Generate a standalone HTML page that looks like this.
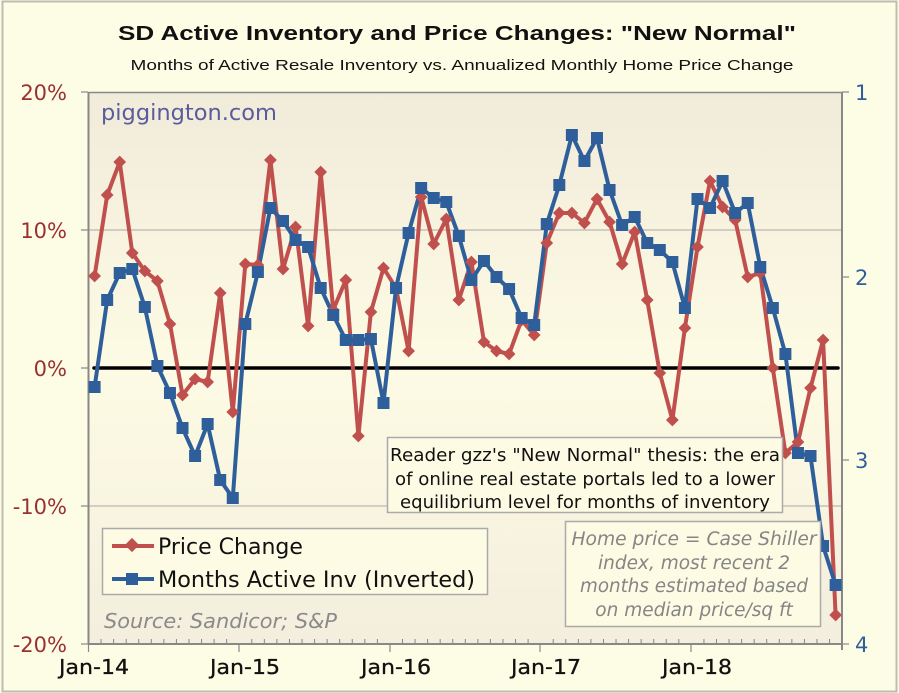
<!DOCTYPE html>
<html><head><meta charset="utf-8"><style>
html,body{margin:0;padding:0;background:#fdfde6;}
svg{display:block;}
</style></head><body>
<svg width="899" height="693" viewBox="0 0 899 693" xmlns="http://www.w3.org/2000/svg">
<defs>
<linearGradient id="pg" x1="0" y1="0" x2="0" y2="1">
<stop offset="0" stop-color="#f1ebda"/><stop offset="0.5" stop-color="#fdfbe4"/><stop offset="1" stop-color="#f3eedd"/>
</linearGradient>
</defs>
<rect x="0" y="0" width="899" height="693" fill="#fdfde6"/>
<rect x="2.5" y="1.5" width="894" height="690" fill="none" stroke="#bdbdb0" stroke-width="2"/>
<text x="457" y="40" font-family="Liberation Sans, sans-serif" font-weight="bold" font-size="20" text-anchor="middle" textLength="678" lengthAdjust="spacingAndGlyphs" fill="#111">SD Active Inventory and Price Changes: "New Normal"</text>
<text x="462" y="70" font-family="Liberation Sans, sans-serif" font-size="15" text-anchor="middle" textLength="663" lengthAdjust="spacingAndGlyphs" fill="#111">Months of Active Resale Inventory vs.  Annualized Monthly Home Price Change</text>
<rect x="88.5" y="92" width="753.5" height="552" fill="url(#pg)"/>
<line x1="88.5" y1="230" x2="842" y2="230" stroke="#aaa" stroke-width="1"/>
<line x1="88.5" y1="506" x2="842" y2="506" stroke="#aaa" stroke-width="1"/>
<line x1="88.5" y1="92.5" x2="842" y2="92.5" stroke="#888" stroke-width="1.5"/>
<line x1="88.5" y1="92" x2="88.5" y2="644" stroke="#888" stroke-width="2"/>
<line x1="842" y1="92" x2="842" y2="650" stroke="#888" stroke-width="2"/>
<line x1="88.5" y1="644" x2="842" y2="644" stroke="#888" stroke-width="2"/>
<g stroke="#888" stroke-width="1.2">
<line x1="81" y1="92" x2="88" y2="92"/><line x1="81" y1="230" x2="88" y2="230"/><line x1="81" y1="368" x2="88" y2="368"/><line x1="81" y1="506" x2="88" y2="506"/><line x1="81" y1="644" x2="88" y2="644"/>
<line x1="842" y1="92" x2="849" y2="92"/><line x1="842" y1="277" x2="849" y2="277"/><line x1="842" y1="460" x2="849" y2="460"/><line x1="842" y1="644" x2="849" y2="644"/>
<line x1="88.5" y1="644" x2="88.5" y2="652"/><line x1="239" y1="644" x2="239" y2="652"/><line x1="390" y1="644" x2="390" y2="652"/><line x1="540" y1="644" x2="540" y2="652"/><line x1="691" y1="644" x2="691" y2="652"/>
</g>
<g id="minor" stroke="#888" stroke-width="1"></g>
<text x="101" y="120" font-family="DejaVu Sans, sans-serif" font-size="22.5" fill="#5a5c9c">piggington.com</text>
<g font-family="DejaVu Sans, sans-serif" font-size="21" fill="#9b3030" text-anchor="end">
<text x="67" y="100">20%</text><text x="67" y="238">10%</text><text x="67" y="376">0%</text><text x="67" y="514">-10%</text><text x="67" y="652">-20%</text>
</g>
<g font-family="DejaVu Sans, sans-serif" font-size="21" fill="#2f5f9a">
<text x="855" y="100">1</text><text x="855" y="285">2</text><text x="855" y="468">3</text><text x="855" y="652">4</text>
</g>
<g font-family="DejaVu Sans, sans-serif" font-size="20" fill="#111" text-anchor="middle" stroke="#111" stroke-width="0.3">
<text x="94" y="674" textLength="70" lengthAdjust="spacingAndGlyphs">Jan-14</text><text x="245" y="674" textLength="70" lengthAdjust="spacingAndGlyphs">Jan-15</text><text x="396" y="674" textLength="70" lengthAdjust="spacingAndGlyphs">Jan-16</text><text x="546" y="674" textLength="70" lengthAdjust="spacingAndGlyphs">Jan-17</text><text x="697" y="674" textLength="70" lengthAdjust="spacingAndGlyphs">Jan-18</text>
</g>
<line x1="94" y1="368" x2="838" y2="368" stroke="#000" stroke-width="3.5" stroke-linecap="round"/>
<g id="series"></g>
<rect x="387.5" y="437.5" width="395" height="75" fill="#fdfbe4" stroke="#aaa" stroke-width="1.5"/>
<g font-family="DejaVu Sans, sans-serif" font-size="18" fill="#111" text-anchor="middle">
<text x="585" y="461" textLength="390" lengthAdjust="spacingAndGlyphs">Reader gzz's "New Normal" thesis: the era</text>
<text x="585" y="485" textLength="380" lengthAdjust="spacingAndGlyphs">of online real estate portals led to a lower</text>
<text x="585" y="508" textLength="370" lengthAdjust="spacingAndGlyphs">equilibrium level for months of inventory</text>
</g>
<rect x="565.5" y="521.5" width="255" height="105" fill="#fdfbe4" stroke="#aaa" stroke-width="1.5"/>
<g font-family="DejaVu Sans, sans-serif" font-size="18.5" font-style="italic" fill="#858585" text-anchor="middle">
<text x="694" y="545" textLength="245" lengthAdjust="spacingAndGlyphs">Home price = Case Shiller</text>
<text x="694" y="569">index, most recent 2</text>
<text x="694" y="592" textLength="228" lengthAdjust="spacingAndGlyphs">months estimated based</text>
<text x="694" y="616">on median price/sq ft</text>
</g>
<rect x="102.5" y="528.5" width="385" height="66" fill="#fdfbe4" stroke="#aaa" stroke-width="1.5"/>
<line x1="112" y1="546" x2="154" y2="546" stroke="#c0504d" stroke-width="4"/>
<rect x="127" y="540" width="10" height="10" fill="#c0504d" transform="rotate(45 132 545)"/>
<line x1="112" y1="579" x2="154" y2="579" stroke="#2f5f9a" stroke-width="4"/>
<rect x="126" y="573" width="12" height="12" fill="#2f5f9a"/>
<g font-family="DejaVu Sans, sans-serif" font-size="22" fill="#111">
<text x="158" y="554">Price Change</text>
<text x="158" y="587" textLength="317" lengthAdjust="spacingAndGlyphs">Months Active Inv (Inverted)</text>
</g>
<text x="104" y="628" font-family="DejaVu Sans, sans-serif" font-size="20.5" font-style="italic" fill="#8a8a8a" textLength="233" lengthAdjust="spacingAndGlyphs">Source: Sandicor; S&amp;P</text>
</svg>
<script>
(function(){
var NS="http://www.w3.org/2000/svg";
var minor=document.getElementById("minor");
for(var i=1;i<60;i++){if(i%12==0)continue;var x=88.5+12.56*i;var l=document.createElementNS(NS,"line");l.setAttribute("x1",x);l.setAttribute("x2",x);l.setAttribute("y1",639);l.setAttribute("y2",644);minor.appendChild(l);}
var red=[276,195,162,253,271,281,324,395,379,382,293,412,264,265,160,269,227,326,172,310,280,436,312,268,288,351,197,244,219,300,262,342,351,354,320,335,243,213,213,223,199,222,264,232,300,373,420,328,247,181,207,220,277,273,368,453,442,388,340,615];
var blue=[387,300,273,269,307,366,393,428,456,424,480,498,324,272,208,221,240,247,288,315,340,340,339,403,288,233,188,198,202,236,280,261,277,289,318,325,224,185,135,161,138,190,225,217,243,250,262,308,199,208,181,213,203,267,308,354,453,456,546,585];
var g=document.getElementById("series");
function line(d,c){var p=[];for(var i=0;i<d.length;i++)p.push((94.6+12.56*i).toFixed(1)+","+d[i]);var e=document.createElementNS(NS,"polyline");e.setAttribute("points",p.join(" "));e.setAttribute("fill","none");e.setAttribute("stroke",c);e.setAttribute("stroke-width","4");e.setAttribute("stroke-linejoin","round");g.appendChild(e);}
line(red,"#c0504d");line(blue,"#2f5f9a");
for(var i=0;i<red.length;i++){var x=94.6+12.56*i;var r=document.createElementNS(NS,"rect");r.setAttribute("x",x-4.5);r.setAttribute("y",red[i]-4.5);r.setAttribute("width",9);r.setAttribute("height",9);r.setAttribute("fill","#c0504d");r.setAttribute("transform","rotate(45 "+x+" "+red[i]+")");g.appendChild(r);}
for(var i=0;i<blue.length;i++){var x=94.6+12.56*i;var r=document.createElementNS(NS,"rect");r.setAttribute("x",x-6);r.setAttribute("y",blue[i]-6);r.setAttribute("width",12);r.setAttribute("height",12);r.setAttribute("fill","#2f5f9a");g.appendChild(r);}
})();
</script>
</body></html>
